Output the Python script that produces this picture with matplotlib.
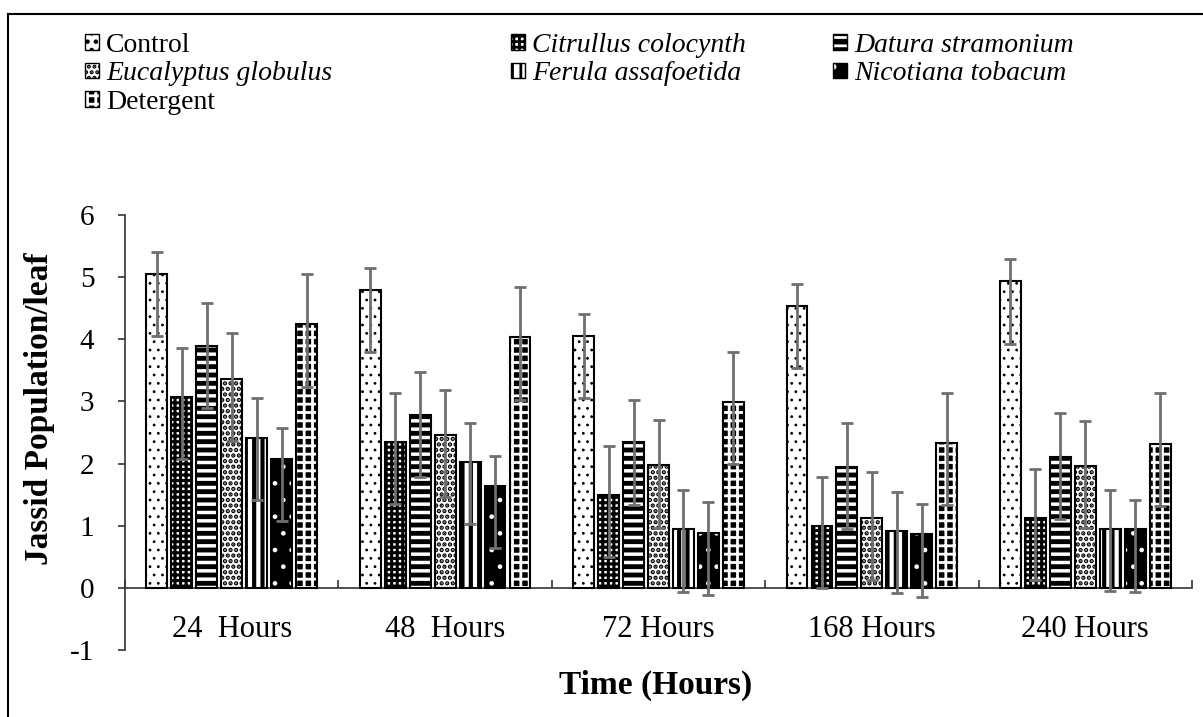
import matplotlib
matplotlib.use("Agg")
import matplotlib.pyplot as plt
from matplotlib.patches import Patch
from matplotlib.lines import Line2D
import numpy as np

plt.rcParams['font.family'] = ['Liberation Serif', 'DejaVu Serif']
plt.rcParams['axes.unicode_minus'] = False
plt.rcParams['hatch.linewidth'] = 2.0

# chart data
times = ['24  Hours', '48  Hours', '72 Hours', '168 Hours', '240 Hours']
treatments = ['Control', 'Citrullus colocynth', 'Datura stramonium',
              'Eucalyptus globulus', 'Ferula assafoetida', 'Nicotiana tobacum',
              'Detergent']

control = [5.05, 4.79, 4.06, 4.54, 4.93]
citrullus = [3.07, 2.35, 1.49, 0.99, 1.12]
datura = [3.89, 2.78, 2.34, 1.95, 2.11]
eucalyptus = [3.36, 2.46, 1.97, 1.13, 1.96]
ferula = [2.41, 2.03, 0.94, 0.91, 0.95]
nicotiana = [2.07, 1.64, 0.89, 0.86, 0.94]
detergent = [4.24, 4.03, 2.99, 2.33, 2.32]

# upper error (whisker above bar)
control_up = [0.35, 0.36, 0.35, 0.35, 0.36]
citrullus_up = [0.79, 0.78, 0.79, 0.79, 0.79]
datura_up = [0.69, 0.69, 0.69, 0.70, 0.70]
eucalyptus_up = [0.74, 0.72, 0.73, 0.73, 0.73]
ferula_up = [0.64, 0.62, 0.64, 0.63, 0.63]
nicotiana_up = [0.50, 0.48, 0.49, 0.49, 0.47]
detergent_up = [0.81, 0.81, 0.81, 0.81, 0.81]

# lower error (whisker below bar)
err_low = [1.0, 1.0, 1.0, 1.0, 1.0]

values = [control, citrullus, datura, eucalyptus, ferula, nicotiana, detergent]
errors_up = [control_up, citrullus_up, datura_up, eucalyptus_up, ferula_up,
             nicotiana_up, detergent_up]

# (face colour, hatch colour, hatch, hatch linewidth)
styles = [
    ('white', 'black', '..', 0.8),
    ('white', 'black', '+++', 2.2),
    ('black', 'white', '--', 2.5),
    ('white', 'black', '...', 2.2),
    ('white', 'black', '||', 3.0),
    ('black', 'white', '.', 0.9),
    ('black', 'white', '++', 2.0),
]
italic = [False, True, True, True, True, True, False]


def hatch_patch(face, hcol, hatch, hlw):
    p = Patch(facecolor=face, edgecolor=hcol, hatch=hatch, linewidth=0)
    if hasattr(p, 'set_hatch_linewidth'):
        p.set_hatch_linewidth(hlw)
    return p


def plot_bars(ax):
    x = np.arange(len(times))
    width = 0.098
    step = 0.117
    handles = []
    for i, vals in enumerate(values):
        face, hcol, hatch, hlw = styles[i]
        pos = x + (i - 3) * step
        bars = ax.bar(pos, vals, width, color=face, edgecolor=hcol,
                      hatch=hatch, linewidth=0, zorder=2)
        for b in bars:
            if hasattr(b, 'set_hatch_linewidth'):
                b.set_hatch_linewidth(hlw)
        ax.bar(pos, vals, width, fill=False, edgecolor='black',
               linewidth=1.5, zorder=3)
        ax.errorbar(pos, vals, yerr=[err_low, errors_up[i]], fmt='none',
                    ecolor='#6f6f6f', elinewidth=2, capsize=4.5,
                    capthick=2, zorder=4)
        outline = Patch(facecolor='none', edgecolor='black', linewidth=1.0)
        handles.append((hatch_patch(face, hcol, hatch, hlw), outline))
    return handles


def style_axes(ax):
    ax.set_xlim(-0.5, len(times) - 0.5)
    ax.set_ylim(-1, 6)
    ax.spines['top'].set_visible(False)
    ax.spines['right'].set_visible(False)
    ax.spines['bottom'].set_position(('data', 0))
    ax.spines['left'].set_color('#333333')
    ax.spines['bottom'].set_color('#333333')
    ax.spines['left'].set_linewidth(1.2)
    ax.spines['bottom'].set_linewidth(1.2)
    ax.set_yticks(np.arange(-1, 7, 1))
    ax.tick_params(axis='y', direction='out', length=5, width=1.2,
                   color='#333333', labelsize=21, pad=17)
    ax.set_xticks(np.arange(-0.5, len(times), 1))
    ax.set_xticklabels([])
    ax.tick_params(axis='x', direction='in', length=6, width=1.2,
                   color='#333333')
    for i, t in enumerate(times):
        ax.text(i, -0.67, t, ha='center', va='center', fontsize=22)


def add_legends(fig, handles):
    W, H = 1203, 717
    columns = [(85, [0, 3, 6]), (511, [1, 4]), (833, [2, 5])]
    for xpix, idx in columns:
        leg = fig.legend([handles[k] for k in idx],
                         [treatments[k] for k in idx],
                         loc='upper left', bbox_to_anchor=(xpix / W, 1 - 33 / H),
                         frameon=False, fontsize=20, handlelength=0.5,
                         handleheight=0.5, handletextpad=0.25,
                         labelspacing=0.12, borderpad=0, borderaxespad=0)
        for k, txt in zip(idx, leg.get_texts()):
            if italic[k]:
                txt.set_fontstyle('italic')


def main():
    W, H = 1203, 717
    fig = plt.figure(figsize=(W / 100, H / 100), dpi=100)
    ax = fig.add_axes([125 / W, 1 - 650 / H, 1067 / W, 435 / H])
    handles = plot_bars(ax)
    style_axes(ax)
    add_legends(fig, handles)

    fig.text(656 / W, 1 - 685 / H, 'Time (Hours)', ha='center', va='center',
             fontsize=24, fontweight='bold')
    fig.text(40 / W, 1 - 409 / H, 'Jassid Population/leaf', ha='center',
             va='center', rotation=90, fontsize=24, fontweight='bold')

    # outer frame of the figure box
    fig.add_artist(Line2D([8 / W, 8 / W], [0, 1 - 14 / H], color='black',
                          linewidth=1.5, transform=fig.transFigure))
    fig.add_artist(Line2D([8 / W, 1], [1 - 14 / H, 1 - 14 / H], color='black',
                          linewidth=1.5, transform=fig.transFigure))

    fig.savefig('out.png', dpi=100)


if __name__ == "__main__":
    main()
